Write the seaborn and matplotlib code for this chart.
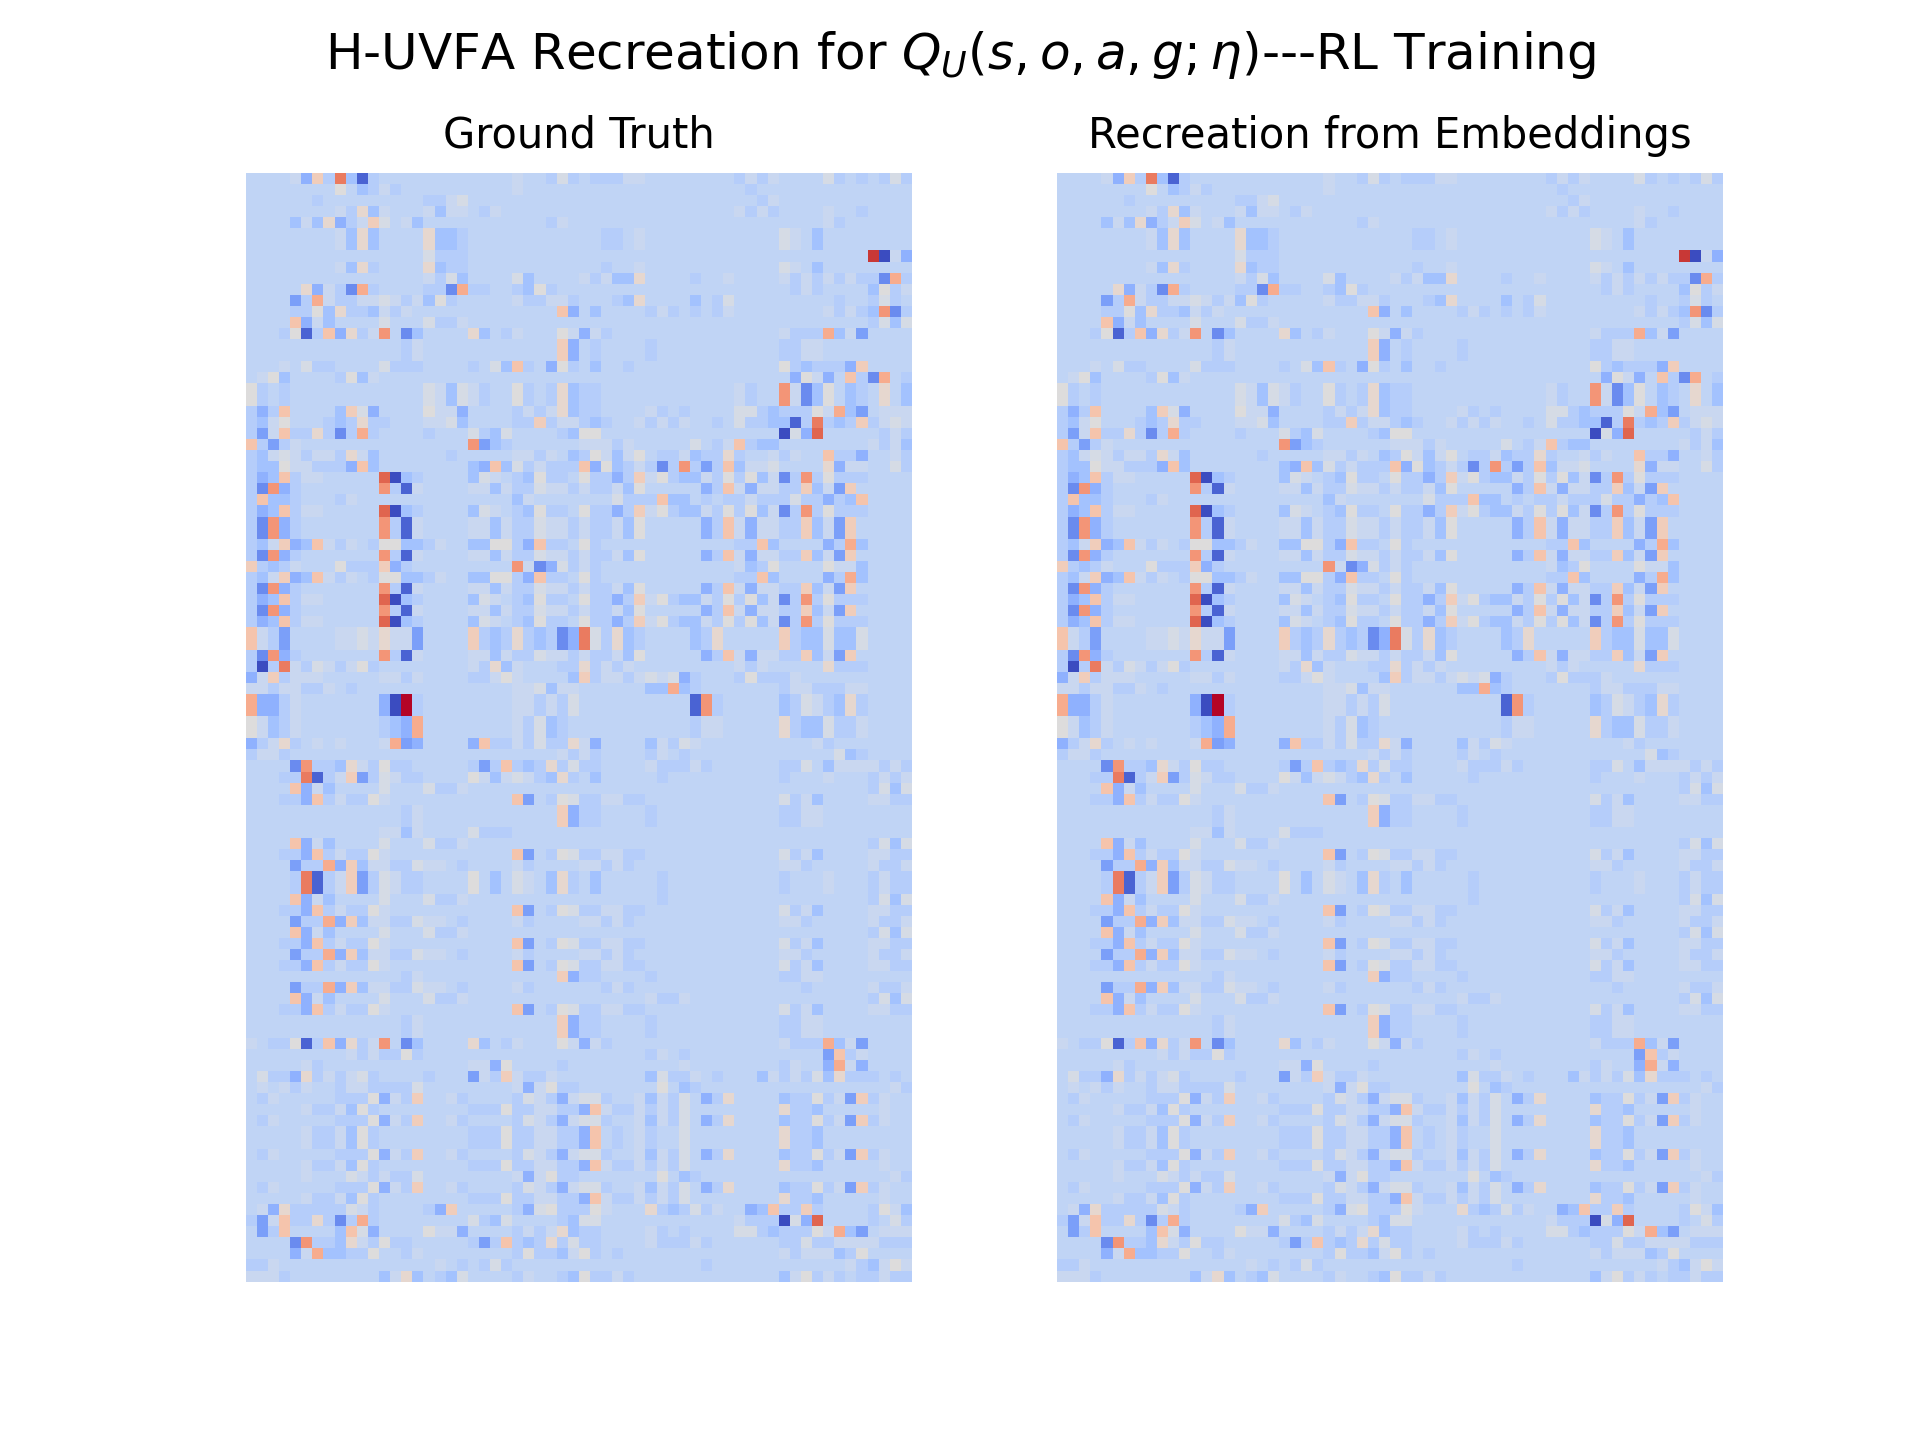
"""H-UVFA recreation heatmaps: ground truth next to the embedding reconstruction."""

import matplotlib

matplotlib.use("Agg")
import matplotlib.pyplot as plt
import numpy as np
import seaborn as sns

TITLE = r"H-UVFA Recreation for $Q_U(s,o,a,g;\eta)$---RL Training"
PANEL_TITLES = ["Ground Truth", "Recreation from Embeddings"]

# one letter per cell, '.' is the background level
LEVEL_CODES = "ABCDEFG.HIJKLMNOPQRT"
LEVEL_VALUES = [0.0, 0.051, 0.149, 0.20, 0.254, 0.313, 0.364, 0.399, 0.426, 0.469,
                0.50, 0.536, 0.586, 0.625, 0.70, 0.758, 0.817, 0.864, 0.942, 1.0]

# 100 rows of 60 cells, spaces are only there to make counting easier
GROUND_TRUTH_ROWS = [
    "....H ELGPF BG... ..... ....H ..GIG .GGGH H.... ....G HGH.. ..IG. G.GIG",
    "..... ...J. FGHG. ..... ....H ..... ..... ..... ..... G.... ..... .....",
    "..... .G... ..... .GGHI ..... ..... ..... ..... ..... .GH.. ..... .....",
    "..... ...HG KFH.. .HFHH .GH.. ..... ..... ..... ....H GHG.. ..H.. G....",
    "....F HFKEG HLI.H F.... ..... ..GH. ..... ..... ..... ..... ..HG. .....",
    "..... ...HF KF... .KFFG ..... ..... ..GG. H.... ..... ...IH .F... .....",
    "..... ...HF KF... .KFFG ..... ..... ..GG. H.... ..... ...IH .F... .....",
    "..... ..... ..... .IGGG ..... ..... ..... ..... ..... ..... ..... .RAHE",
    "..... ...HF KG... .KFGG ..... ..... ..G.. H.... ..... ...IH .F... .....",
    "..... ..... ..... .HGIF ....I F.... HGHFF K.... G..H. ...HG HGHGH GGCNG",
    "..... KEHGC NG... .GGCN GG..G FJG.. ..... ..... ..... ....G HG... .FJGH",
    "....D GNHGG HHIHG HFJG. ....H GGHHG ...GF K.... F.GI. ..... ...G. .GIG.",
    "....G GJFKG GFHGH ..... ..... ...ME .F... .GHG. G.GH. ..... ..HGH GFOCG",
    "....M EHF.. ..I.. .IGGH ..... ..... ..... ..... ..... ..... ..... .GIFI",
    "...GJ BGMEK GHO.C F.... KF.GH ...JH EHG.. ..... ..... ...HG GGNFH D....",
    "..... ..... ....G H.... ..... ...LE .G... .G... ..... ...GG HH... .....",
    "..... ..... ....G H.... ..... ...LE .G... .G... ..... ...GG HH... .....",
    "...H. IGG.. ..IGG G.... G.IFM G.EJG .F..G ..... ..... ...JG FGGGE L....",
    ".HJF. ...GJ FH... ..... ..... ..... ..... ..... ..... ....E JHE.M GCN.G",
    "JG.G. ..... ..... .IHFI HG..J G.GKF GG... ..... ....H G..OH CFJ.F G.K.F",
    "JG.G. ..... ..... .IHFI HG..J G.GKF GG... ..... ....H G..OH CFJ.F G.K.F",
    "GEGM. ...FL IE... .JHHE ....G HGHKF GG... .HG.G ....I IGFGG GJHNF D.HHH",
    "GFHJ. ..GFG KGG.. .HHIF ....G GLGHH GFG.. HGHGH ..G.I GGFFB GPGFG LGHIH",
    "GDHMG GKGCG NG... .G... IGFI. ...GF JJ... ..... ..... ...AI EQ... ..GHG",
    "MGDGH ..... ..... ..... ODFG. ..... HHHGH ..... I.GHM GFF.. ..... .HGHF",
    "GFHIH GHHGK HF... ...G. ....H HGH.F GJHFH J.GGH FGGKG ..HGH ..MGG E..HG",
    "GFFJH HGGGE MF... ..... FEMFI GHGGG MEJFG HGCGO GDGMF HHI.. ..KEH H..IG",
    "GEFMG HH... ..QAF G.... FIH.G FJGG. JGGEG LHJGF FHGJG JFHCG OGJGG G....",
    "GCOEG ..... ..OGB H.... HHFHG GIHHG HGGHF J.... .EGMH EHHGG LFHDL .....",
    "GMFFG ...GH ..... ..... ....F H.... ...IG GGMFF .G.GG HGGGI GGEGF M....",
    "GEFMG HH... ..QAF G.... FIH.G FJGG. JGGEG LHJGF FHGJG JFHCG OGJGG G....",
    "GCOEG ..... ..OGB H.... HHFHG GIHHG HGGHF J.... .EGMH EHHGG LFHDL .....",
    "GCOEG ..... ..OGB H.... HHFHG GIHHG HGGHF J.... .EGMH EHHGG LFHDL .....",
    "GFHLE FMHGH .GJJF FGH.. FFJJG EMGG. JG... ..... ....G GMF.. ..EGN F....",
    "GCOEG ..... ..OGB H.... HHFHG GIHHG HGGHF J.... .EGMH EHHGG LFHDL .....",
    "LGFGH ...JG GGLEG ..... ....O HCEIG HG... ..... ....H FGJ.. ..JHH F....",
    "GFHLE FMHGH .GJJF FGH.. FFJJG EMGG. JG... ..... ....G GMF.. ..EGN F....",
    "GCOEG ..... ..OGB H.... HHFHG GIHHG HGGHF J.... .EGMH EHHGG LFHDL .....",
    "GEFMG HH... ..QAF G.... FIH.G FJGG. JGGEG LHJGF FHGJG JFHCG OGJGG G....",
    "GCOEG ..... ..OGB H.... HHFHG GIHHG HGGHF J.... .EGMH EHHGG LFHDL .....",
    "GEFMG HH... ..QAF G.... FIH.G FJGG. JGGEG LHJGF FHGJG JFHCG OGJGG G....",
    "MHGD. ...HH IHKHH D.... LGFGK GFGCE PIGKF G.... FGK.. ...LG FFIFF I....",
    "MHGD. ...HH IHKHH D.... LGFGK GFGCE PIGKF G.... FGK.. ...LG FFIFF I....",
    "GCOEG ..... ..OGB H.... HHFHG GIHHG HGGHF J.... .EGMH EHHGG LFHDL .....",
    "GAGPH GIHGH JG... ..... HGKFH ...GG KGHGH ..... ....H GH... ..KGG G....",
    "EHLGH HH... ..HHG H.... GGHJH ....F LGHHG HIHIE G...G JGGGH ..... .....",
    "HHGHH GGH.G ..... ..... ....H HIFHH ..... .FFNF G.... ...GH HGGGH H....",
    "NEEGH ..... ..EAT G.... ....H HGHGI ..... ..... BOG.. ...FG IHGFK G....",
    "NEEGH ..... ..EAT G.... ....H HGHGI ..... ..... BOG.. ...FG IHGFK G....",
    "JHFGH ..... ..GFE N.... ....H GIFG. ..... ..... GHH.. ...KG FFIGG H....",
    "JHFGH ..... ..GFE N.... ....H GIFG. ..... ..... GHH.. ...KG FFIGG H....",
    "EGHKG .H.H. ..HND E.... EMGGH GIGGK HE... .FHGI H.... ..... .HG.. .....",
    "GHHG. ..... ..... ..... ..... ...HG HG... .GH.G ..... ..... ...IF G....",
    "....C OGGFK HGJGG ..... GDGMG FGKGI GG... .HGGG HG... ...GG I.FHH HHGHG",
    "...GG PBGHL DGIHG G.... JHFHI HGFKG .F... ..G.. ..... ...G. ..H.. .GHGH",
    "....M EHF.. ..I.. .IGGH ..... ..... ..... ..... ..... ..... ..... .GIFI",
    "...GG EMGHG GJH.. ..... ....M D.GJI GGHHG G.... ..... ...IG HF... .HHGG",
    "..... ..... ....G H.... ..... ...LE GG... .G... ..... ...GG HH... .....",
    "..... ..... ....G H.... ..... ...LE GG... .G... ..... ...GG HH... .....",
    "..... ..... ..HHF H.... IGGG. ..... ..... ..... ..... ..... ..... .....",
    "....M EHF.. ..I.. .IGGH ..... ..... ..... ..... ..... ..... ..... .GIFI",
    "...GG EMGHG GJH.. ..... ....M D.GJI GGHHG G.... ..... ...IG HF... .HHGG",
    "....D GGNEL FHHGG IHH.G ....H G.... HHGHG ..... ..... ...HH G.... .HGGH",
    "....G PBGHL DGIHG G.... J.F.I H.FKG .F... ..G.. ..... ...G. ..H.. .GHGG",
    "....G PBGHL DGIHG G.... J.F.I H.FKG .F... ..G.. ..... ...G. ..H.. .GHGG",
    "....M EHF.. ..I.. .IGGH ..... ..... ..... ..G.. ..... ..... ..... .GIFI",
    "...GG EMGHG GJH.. ..... ....M D.GJI GGHHG G.... ..... ...IG HF... .HHGG",
    "....D GGNEL FHHGG IHH.G ....H G.... HHGHG ..... ..... ...HH G.... .HGGH",
    "....M EHF.. ..I.. .IGGH ..... ..... ..... ..... ..... ..... ..... .GIFI",
    "...GG EMGHG GJH.. ..... ....M D.GJI GGHHG G.... ..... ...IG HF... .HHGG",
    "....D GGNEL FHHGG IHH.G ....H G.... HHGHG ..... ..... ...HH G.... .HGGH",
    "...GG EMGHG GJH.. ..... ....M D.GJI GGHHG G.... ..... ...IG HF... .HHGG",
    "..... ..... ....G H.... ..... ...LE GG... .G... ..... ...GG HH... .....",
    "....D GGNEL FHHGG IHH.G ....H G.... ..GHG ..... ..... ..... G.... .HGGH",
    "....M EHF.. ..I.. .IGGH ..... ..... ..... .HGGH ..... ..... ..... .GIFI",
    "...GG EMGHG GJH.. ..... ....M D.GJI GGHHG G.... ..... ...IG HF... .HHGG",
    "..... ..... ....G H.... ..... ...LE GG... .G... ..... ...GG HH... .....",
    "..... ..... ....G H.... ..... ...LE GG... .G... ..... ...GG HH... .....",
    "H.GGJ BGMEK GHO.C F.... KF.GH ...JH EHG.. ..... ..... ...HG GGNFH D....",
    "..... ....H GHGGJ G.... ..... ..... ..... .GH.G ..... ..... ..DMG H....",
    "..... HG... ..... ..... HHEJ. ...G. ..... ....H ..... ...GH ..ENH E....",
    ".IGGE KGHGH IG... .G... DHGLH GGH.. ..... .FIGG H.G.. .FHGH GIFKG GG.G.",
    ".H.HG H..GH HGGGG I.... ....H EHJGG ..... ..J.F G.... ..... ..... ...HG",
    ".GH.. ...GG GJEHG L..HG ....G IHGEH IIG.. HFHGI .EGK. ...FG GJGHD LGH..",
    "..... HGGHF JG... ..... GGGJG GHHGG EMHGG HGHGI ..... ...KG GF... ..H..",
    ".GH.. ...GG GJEHG L..HG ....G IHGEH IIG.. HFHGI .EGK. ...FG GJGHD LGH..",
    "..... HGGHF JG... ..... GGGJG GHHGG EM.G. HG..I ..... ...KG GF... .....",
    "..... HGGHF JG... ..... GGGJG GHHGG EM.G. HG..I ..... ...KG GF... .....",
    ".GH.. ...GG GJEHG L..HG ....G IHGEH IIG.. HFHGI .EGK. ...FG GJGHD LGH..",
    "..... HGGHF JG... ..... GGGJG GHHGG EMHGG HGHGI ..... ...KG GF... ..H..",
    "..... H...I HGHGG I.... ....H EHJGG ..... ..J.F G.... ..... ..... ...HG",
    ".GH.. ...GG GJEHG L..HG ....G IHGEH IIG.. HFHGI .EGK. ...FG GJGHD LGH..",
    "..... HGGHF JG... ..... GGGJG GHHGG EMHGG HGHGI ..... ...KG GF... ..H..",
    ".HEKG GGGGI HG... .GEL. ....G EIJGG GJH.. .KGFG IGH.. EFMGG LG... .GJHF",
    "GDHMG GKGCG NG... ..... IGFI. ...GF II... ..... ....H GGGAI EQ... .G.IG",
    ".DGM. ...FM IE... .JHHE ....G HGHKF GG... .HG.G ....I IGFGG GJHNF D.HHH",
    "....C OGGFK HGJGG ..... GDGMG FGKGI GG... .HGGG HG... ...GG IGGHH HHGGG",
    "....E HNFFG GJ..G H.... ....G JGGFH JG.G. ..... ..... ...HG HHHFG J....",
    "GGH.. ..... ..... ..H.G .GIG. ..... ..... ..... .G... ..... ....H GFHJH",
    "HHHG. ..... ..FHK F.GFI ....G H..GF JGGHG ..... ..... ...FH JGHG. GGHGG",
]


def rows_to_matrix(rows):
    lookup = dict(zip(LEVEL_CODES, LEVEL_VALUES))
    return np.array([[lookup[c] for c in row.replace(" ", "")] for row in rows])


ground_truth = rows_to_matrix(GROUND_TRUTH_ROWS)
# the reconstruction shows no visible difference from the ground truth
recreation = ground_truth.copy()

fig, axes = plt.subplots(1, 2, figsize=(6.4, 4.8), dpi=300)
fig.subplots_adjust(left=0.128, right=0.8975, top=0.88, bottom=0.11, wspace=0.2177)
for ax, matrix, panel_title in zip(axes, [ground_truth, recreation], PANEL_TITLES):
    sns.heatmap(matrix, ax=ax, cmap="coolwarm", vmin=0, vmax=1, cbar=False,
                xticklabels=False, yticklabels=False)
    ax.set_title(panel_title, fontsize=10)
fig.suptitle(TITLE, fontsize=12)
fig.savefig("out.png", dpi=300)
plt.close(fig)
